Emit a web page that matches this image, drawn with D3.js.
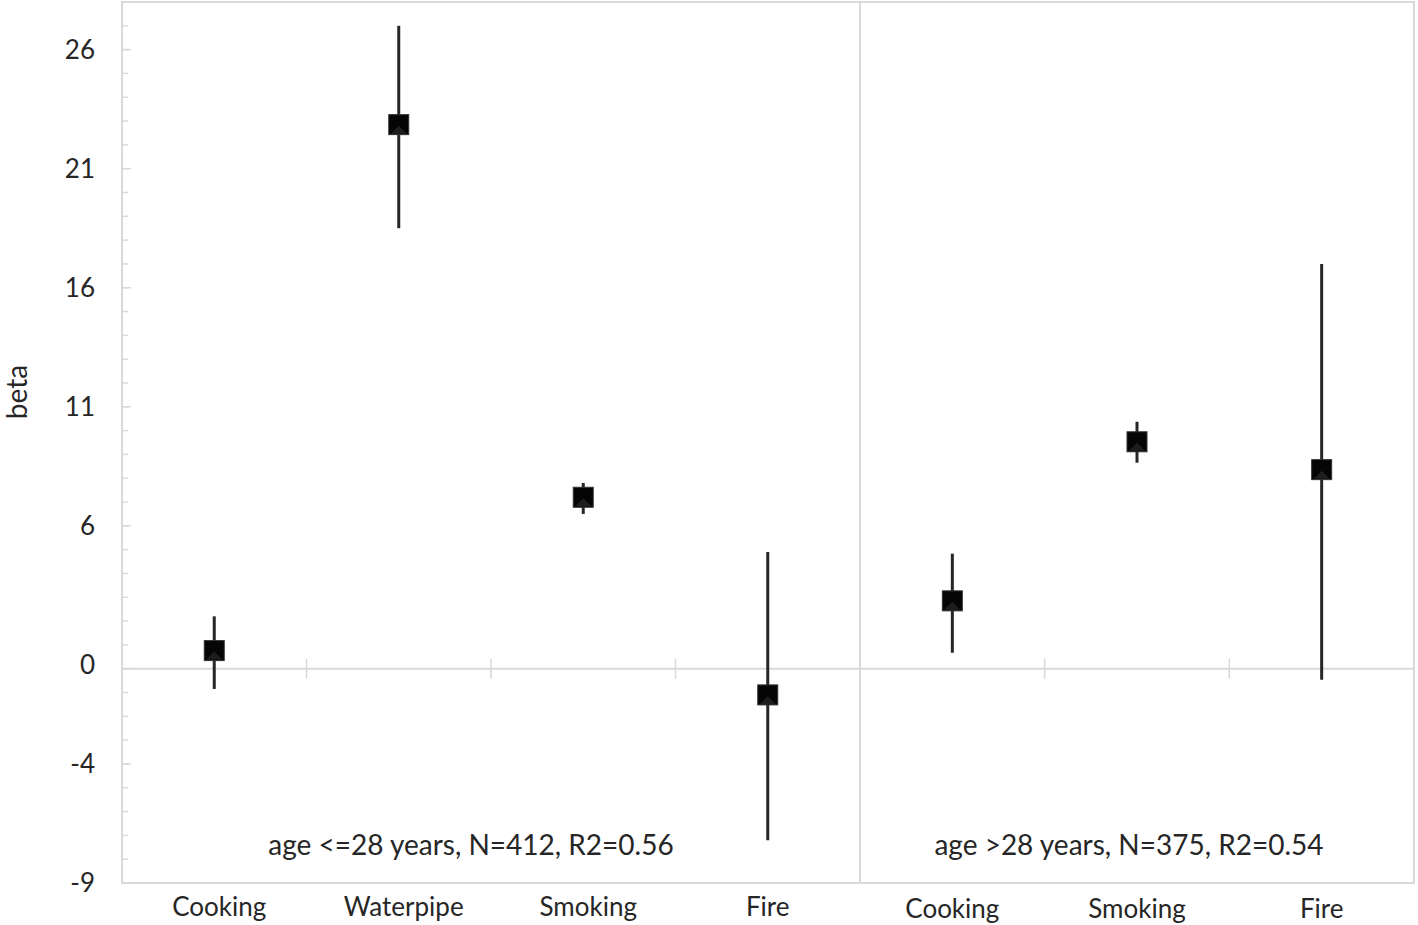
<!DOCTYPE html>
<html><head><meta charset="utf-8">
<script src="https://cdn.jsdelivr.net/npm/d3@7"></script>
<style>html,body{margin:0;padding:0;background:#fff;}svg{display:block;font-family:Lato,"Open Sans",sans-serif;}</style>
</head><body>
<svg id="c" width="1418" height="925"></svg>
<script>
const catsYoung = ["Cooking","Waterpipe","Smoking","Fire"];
const betaYoung = [0.76, 22.85, 7.2, -1.1];
const lowYoung  = [-0.85, 18.5, 6.5, -7.2];
const highYoung = [2.2, 27.0, 7.8, 4.9];
const catsOld = ["Cooking","Smoking","Fire"];
const betaOld = [2.85, 9.53, 8.36];
const lowOld  = [0.67, 8.65, -0.46];
const highOld = [4.83, 10.37, 17.0];
const panelLabels = ["age <=28 years, N=412, R2=0.56", "age >28 years, N=375, R2=0.54"];
const yTickValues = [-9,-4,0,6,11,16,21,26];
const yDomain = [-9, 28];
const yLabel = "beta";

const svg = d3.select("#c");
const L = 122, R = 1414, T = 2, B = 883, MID = 860;
const y = d3.scaleLinear().domain(yDomain).range([B, T]);
const grid = "#d9d9d9";

const panels = [
  {cats: catsYoung, beta: betaYoung, low: lowYoung, high: highYoung, x0: L, x1: MID, label: panelLabels[0], lx: 471, ly: 855, cy: 916},
  {cats: catsOld, beta: betaOld, low: lowOld, high: highOld, x0: MID, x1: R, label: panelLabels[1], lx: 1129, ly: 855, cy: 918}
];

// frame
svg.append("rect").attr("x", L).attr("y", T).attr("width", R - L).attr("height", B - T)
  .attr("fill", "none").attr("stroke", grid).attr("stroke-width", 2);
svg.append("line").attr("x1", MID).attr("x2", MID).attr("y1", T).attr("y2", B)
  .attr("stroke", grid).attr("stroke-width", 2);
// zero line
svg.append("line").attr("x1", L).attr("x2", R).attr("y1", y(0)).attr("y2", y(0))
  .attr("stroke", grid).attr("stroke-width", 2);

// y ticks minor
const minor = d3.range(yDomain[0], yDomain[1] + 1);
svg.append("g").selectAll("line").data(minor).join("line")
  .attr("x1", L).attr("x2", L + 6).attr("y1", d => y(d)).attr("y2", d => y(d))
  .attr("stroke", grid).attr("stroke-width", 1.5);
svg.append("g").selectAll("line").data(yTickValues).join("line")
  .attr("x1", L).attr("x2", L + 9).attr("y1", d => y(d)).attr("y2", d => y(d))
  .attr("stroke", grid).attr("stroke-width", 1.5);
svg.append("g").selectAll("text").data(yTickValues).join("text")
  .attr("x", 95).attr("y", d => y(d) + (d === 0 ? -4 : 0)).attr("dy", "0.35em")
  .attr("text-anchor", "end").attr("font-size", 26).attr("fill", "#262626")
  .text(d => d);

svg.append("text").attr("transform", `translate(27,392) rotate(-90)`)
  .attr("text-anchor", "middle").attr("font-size", 28).attr("fill", "#262626").text(yLabel);

panels.forEach(p => {
  const x = d3.scaleBand().domain(p.cats).range([p.x0, p.x1]).padding(0);
  const g = svg.append("g");
  g.selectAll("line.sep").data(p.cats.slice(1)).join("line").attr("class", "sep")
    .attr("x1", d => x(d)).attr("x2", d => x(d)).attr("y1", y(0) - 10).attr("y2", y(0) + 10)
    .attr("stroke", grid).attr("stroke-width", 1.5);
  g.selectAll("text.cat").data(p.cats).join("text").attr("class", "cat")
    .attr("x", d => x(d) + x.bandwidth() / 2 + (p.x0 === L && p.cats.indexOf(d) < 3 ? 5 : 0)).attr("y", p.cy)
    .attr("text-anchor", "middle").attr("font-size", 26).attr("fill", "#262626").text(d => d);
  g.append("text").attr("x", p.lx).attr("y", p.ly).attr("text-anchor", "middle")
    .attr("font-size", 28).attr("fill", "#262626").text(p.label);
  const data = p.cats.map((c, i) => ({c, b: p.beta[i], lo: p.low[i], hi: p.high[i]}));
  const cx = d => x(d.c) + x.bandwidth() / 2;
  g.selectAll("line.err").data(data).join("line").attr("class", "err")
    .attr("x1", cx).attr("x2", cx).attr("y1", d => y(d.lo)).attr("y2", d => y(d.hi))
    .attr("stroke", "#262626").attr("stroke-width", 3);
  g.selectAll("rect.mk").data(data).join("rect").attr("class", "mk")
    .attr("x", d => cx(d) - 10).attr("y", d => y(d.b) - 10).attr("width", 20).attr("height", 20)
    .attr("fill", "#050505").attr("stroke", "#333").attr("stroke-width", 1);
  g.selectAll("path.tri").data(data).join("path").attr("class", "tri")
    .attr("d", d => { const X = cx(d), Y = y(d.b); return `M${X-8},${Y+9}L${X},${Y+1}L${X+8},${Y+9}Z`; })
    .attr("fill", "#1e1e1e");
});
</script>
</body></html>
